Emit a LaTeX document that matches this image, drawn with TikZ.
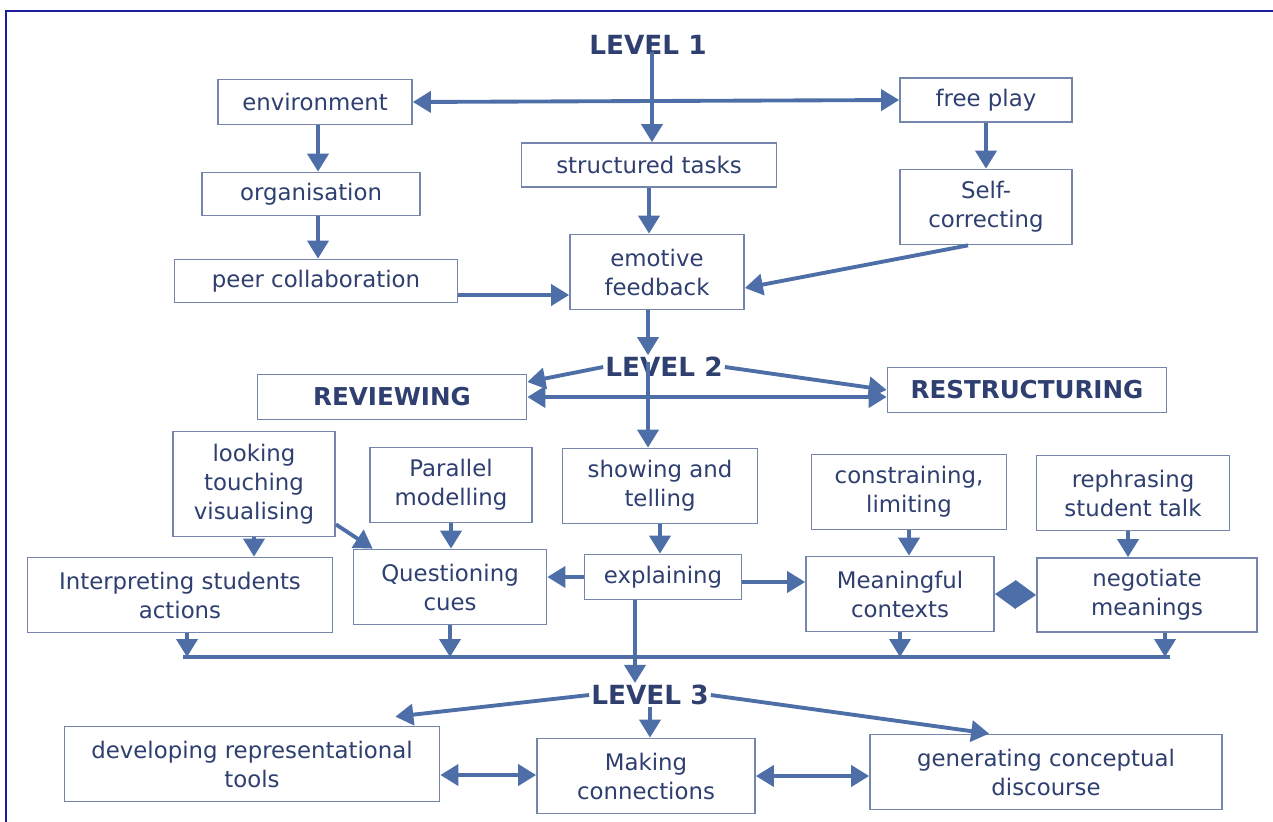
\documentclass[tikz,border=0pt]{standalone}
\usepackage{fontspec}
\setmainfont{DejaVu Sans}
\usepackage{tikz}
\usetikzlibrary{arrows.meta}
\usetikzlibrary{positioning}

\definecolor{txtblue}{HTML}{2E3F70}
\definecolor{arrblue}{HTML}{4D6EA6}
\definecolor{boxblue}{HTML}{7585AC}
\definecolor{frameblue}{HTML}{1C1C9C}

\tikzset{
    box/.style={draw=boxblue, line width=1pt, fill=white, align=center, text=txtblue,
                inner sep=2pt, font=\fontsize{13}{16.5}\selectfont},
    lvl/.style={text=txtblue, inner sep=1pt, font=\bfseries\fontsize{15}{18}\selectfont},
    headbox/.style={box, font=\bfseries\fontsize{14}{17}\selectfont},
}

\begin{document}
\begin{tikzpicture}[x=0.02cm, y=-0.02cm]
\useasboundingbox (0,0) rectangle (1273,821);
\draw[frameblue, line width=1.6pt] (6,900) -- (6,11) -- (1300,11);

\node[lvl] (lvone) at (648,45) {LEVEL 1};
\node[lvl] (lvtwo) at (664,367) {LEVEL 2};
\node[lvl] (lvthree) at (650,695) {LEVEL 3};

\begin{scope}[every node/.style={box}]
    \node[minimum width=3.88cm, minimum height=0.9cm] (env) at (315,102) {environment};
    \node[minimum width=3.44cm, minimum height=0.88cm] (free) at (986,100) {free play};
    \node[minimum width=5.1cm, minimum height=0.88cm] (struct) at (649,165) {structured tasks};
    \node[minimum width=4.36cm, minimum height=0.86cm] (org) at (311,194) {organisation};
    \node[minimum width=3.44cm, minimum height=1.5cm] (self) at (986,207) {Self-\\correcting};
    \node[minimum width=5.66cm, minimum height=0.86cm] (peer) at (316,281) {peer collaboration};
    \node[minimum width=3.48cm, minimum height=1.5cm] (emot) at (657,272) {emotive\\feedback};
\end{scope}

\begin{scope}[every node/.style={headbox}]
    \node[minimum width=5.38cm, minimum height=0.9cm] (rev) at (392,397) {REVIEWING};
    \node[minimum width=5.58cm, minimum height=0.9cm] (restr) at (1027,390) {RESTRUCTURING};
\end{scope}

\begin{scope}[every node/.style={box}]
    \node[minimum width=3.24cm, minimum height=2.1cm] (look) at (254,484) {looking\\touching\\visualising};
    \node[minimum width=3.24cm, minimum height=1.5cm] (par) at (451,485) {Parallel\\modelling};
    \node[minimum width=3.9cm, minimum height=1.5cm] (show) at (660,486) {showing and\\telling};
    \node[minimum width=3.9cm, minimum height=1.5cm] (constr) at (909,492) {constraining,\\limiting};
    \node[minimum width=3.86cm, minimum height=1.5cm] (reph) at (1133,493) {rephrasing\\student talk};
    \node[minimum width=6.1cm, minimum height=1.5cm] (interp) at (180,595) {Interpreting students\\actions};
    \node[minimum width=3.86cm, minimum height=1.5cm] (quest) at (450,587) {Questioning\\cues};
    \node[minimum width=3.14cm, minimum height=0.9cm] (expl) at (663,577) {explaining};
    \node[minimum width=3.76cm, minimum height=1.5cm] (mean) at (900,594) {Meaningful\\contexts};
    \node[minimum width=4.4cm, minimum height=1.48cm] (nego) at (1147,595) {negotiate\\meanings};
    \node[minimum width=7.5cm, minimum height=1.5cm] (dev) at (252,764) {developing representational\\tools};
    \node[minimum width=4.36cm, minimum height=1.5cm] (make) at (646,776) {Making\\connections};
    \node[minimum width=7.04cm, minimum height=1.5cm] (gen) at (1046,772) {generating conceptual\\discourse};
\end{scope}

\coordinate (lvoneE) at (652,52);
\coordinate (lvtwoV) at (648,362);
\coordinate (busL) at (183,657);
\coordinate (busR) at (1170,657);
\coordinate (pe) at ([yshift=-0.28cm]peer.east);

\begin{scope}[>={Triangle[length=0.36cm, width=0.42cm]},
              every edge/.style={draw=arrblue, line width=2.2pt}]
    \path [->] (lvoneE) edge (lvoneE |- struct.north);
    \path [<->] (env.east) edge (free.west);
    \path [->] ([xshift=0.06cm]env.south) edge ([xshift=0.06cm]env.south |- org.north);
    \path [->] ([xshift=0.14cm]org.south) edge ([xshift=0.14cm]org.south |- peer.north);
    \path [->] (struct.south) edge (struct.south |- emot.north);
    \path [->] (free.south) edge (self.north);
    \path [->] ([xshift=-0.36cm]self.south) edge ([yshift=-0.32cm]emot.east);
    \path [->] (pe) edge (pe -| emot.west);
    \path [->] ([xshift=-0.18cm]emot.south) edge ([xshift=-0.18cm]emot.south |- lvtwo.north);
\end{scope}

\begin{scope}[>={Triangle[length=0.36cm, width=0.42cm]},
              every edge/.style={draw=arrblue, line width=2.2pt}]
    \path [->] (lvtwo.west) edge ([yshift=0.3cm]rev.east);
    \path [->] (lvtwo.east) edge (restr.west);
    \path [<->] (rev.east) edge (rev.east -| restr.west);
    \path [->] (lvtwoV) edge (lvtwoV |- show.north);
    \path [->] (show.south) edge (show.south |- expl.north);
    \path [->] (expl.west) edge (expl.west -| quest.east);
    \path [->] ([yshift=-0.1cm]expl.east) edge ([yshift=-0.1cm]expl.east -| mean.west);
    \path [->] (look.south) edge (look.south |- interp.north);
    \path [->] ([yshift=0.26cm]look.south east) edge ([xshift=0.4cm]quest.north west);
    \path [->] (par.south) edge (par.south |- quest.north);
    \path [->] (constr.south) edge (constr.south |- mean.north);
    \path [->] ([xshift=-0.1cm]reph.south) edge ([xshift=-0.1cm]reph.south |- nego.north);
    \path [{Triangle[length=0.42cm, width=0.56cm]}-{Triangle[length=0.42cm, width=0.56cm]}] (mean.east) edge (nego.west);
\end{scope}

\begin{scope}[>={Triangle[length=0.36cm, width=0.42cm]},
              every edge/.style={draw=arrblue, line width=2.2pt}]
    \draw[arrblue, line width=2.2pt] (busL) -- (busR);
    \path [->] ([xshift=0.14cm]interp.south) edge ([xshift=0.14cm]interp.south |- busL);
    \path [->] (quest.south) edge (quest.south |- busL);
    \path [->] ([xshift=-0.56cm]expl.south) edge ([xshift=-0.56cm]expl.south |- lvthree.north);
    \path [->] (mean.south) edge (mean.south |- busL);
    \path [->] ([xshift=0.36cm]nego.south) edge ([xshift=0.36cm]nego.south |- busL);
    \path [->] (lvthree.west) edge ([xshift=-0.9cm, yshift=0.18cm]dev.north east);
    \path [->] (lvthree.south) edge (lvthree.south |- make.north);
    \path [->] (lvthree.east) edge ([xshift=2.4cm]gen.north west);
    \path [<->] ([yshift=-0.22cm]dev.east) edge ([yshift=-0.22cm]dev.east -| make.west);
    \path [<->] (make.east) edge (make.east -| gen.west);
\end{scope}

\end{tikzpicture}
\end{document}
